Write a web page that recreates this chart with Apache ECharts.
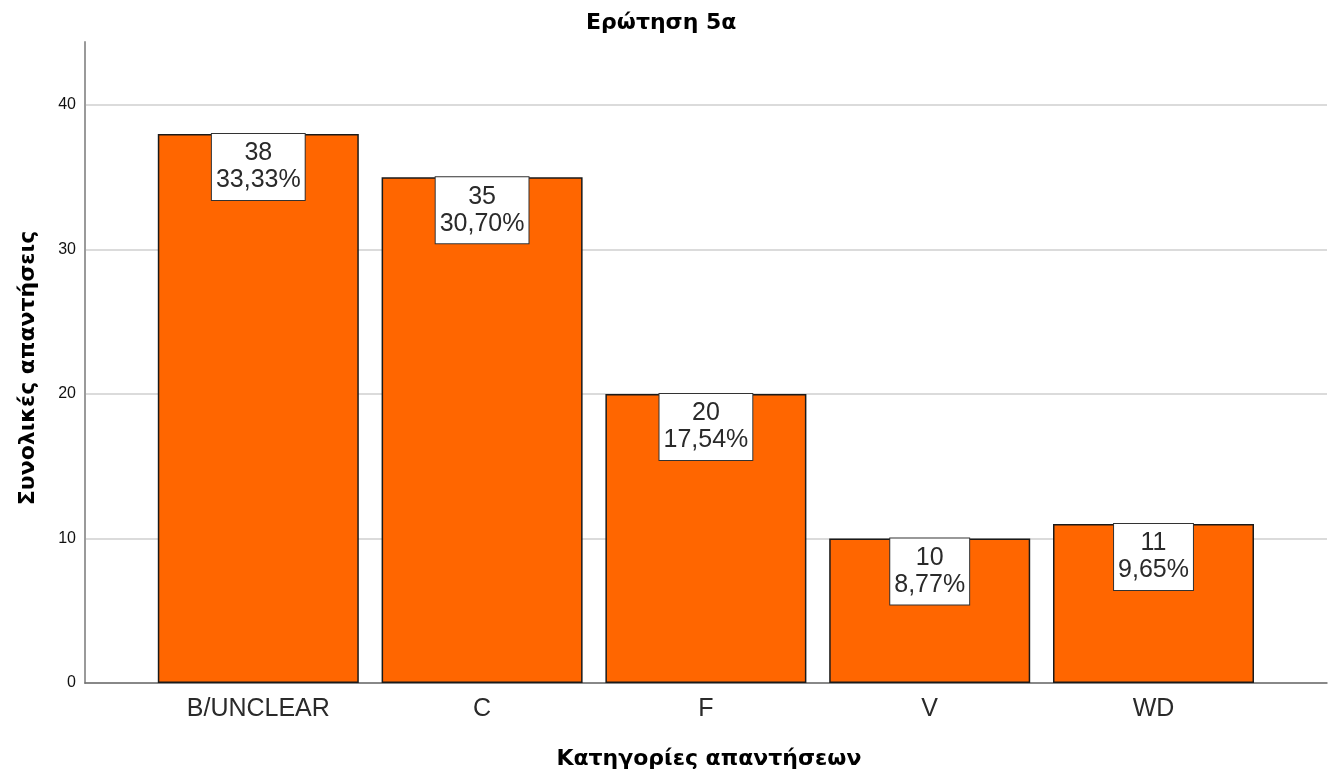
<!DOCTYPE html>
<html>
<head>
<meta charset="utf-8">
<title>Ερώτηση 5α</title>
<script src="https://cdn.jsdelivr.net/npm/echarts@6/dist/echarts.min.js"></script>
<style>
  html, body { margin: 0; padding: 0; background: #ffffff; }
  #chart { width: 1332px; height: 776px; }
</style>
</head>
<body>
<div id="chart"></div>
<script>
// Answer categories and their totals
const categories = ['B/UNCLEAR', 'C', 'F', 'V', 'WD'];
const counts = [38, 35, 20, 10, 11];
const percents = ['33,33%', '30,70%', '17,54%', '8,77%', '9,65%'];
const yTicks = [0, 10, 20, 30, 40];

const titleText = 'Ερώτηση 5α';
const xName = 'Κατηγορίες απαντήσεων';
const yName = 'Συνολικές απαντήσεις';

const Y_MAX = 44.36;
const sans = '"Liberation Sans", Arial, sans-serif';
const boldSans = '"DejaVu Sans", Verdana, sans-serif';

const chart = echarts.init(document.getElementById('chart'), null, { renderer: 'canvas' });

chart.setOption({
  backgroundColor: '#ffffff',
  animation: false,
  title: {
    text: titleText,
    left: 581,
    top: 7,
    textStyle: { fontFamily: boldSans, fontWeight: 'bold', fontSize: 22, color: '#000' }
  },
  grid: [
    // frame: value axis, gridlines and baseline
    { left: 85, right: 5, top: 42, bottom: 93 },
    // bars, inset from the frame
    { left: 146.4, right: 66.6, top: 42, bottom: 93 }
  ],
  xAxis: [
    {
      type: 'category',
      gridIndex: 0,
      data: [''],
      boundaryGap: false,
      axisLine: { show: true, lineStyle: { color: '#6e6e6e', width: 1.5 } },
      axisTick: { show: false },
      axisLabel: { show: false },
      splitLine: { show: false }
    },
    {
      type: 'category',
      gridIndex: 1,
      data: categories,
      axisLine: { show: false },
      axisTick: { show: false },
      axisLabel: {
        margin: 14,
        fontFamily: sans,
        fontSize: 25,
        color: '#2a2a2a'
      },
      name: xName,
      nameLocation: 'middle',
      nameGap: 65,
      nameTextStyle: {
        fontFamily: boldSans, fontWeight: 'bold', fontSize: 22, color: '#000',
        padding: [0, 0, 0, 6]
      }
    }
  ],
  yAxis: [
    {
      type: 'value',
      gridIndex: 0,
      min: 0,
      max: Y_MAX,
      interval: 10,
      axisLine: { show: true, lineStyle: { color: '#9a9a9a', width: 2 } },
      axisTick: { show: false },
      axisLabel: {
        margin: 9,
        fontFamily: sans,
        fontSize: 16,
        color: '#111',
        formatter: v => (yTicks.indexOf(v) >= 0 ? String(v) : '')
      },
      splitLine: {
        show: true,
        lineStyle: {
          color: yTicks.map(() => '#cfcfcf').concat(['rgba(0,0,0,0)']),
          width: 1.5
        }
      },
      name: yName,
      nameLocation: 'middle',
      nameGap: 46,
      nameTextStyle: {
        fontFamily: boldSans, fontWeight: 'bold', fontSize: 22, color: '#000',
        padding: [0, 11, 0, 0]
      }
    },
    {
      type: 'value',
      gridIndex: 1,
      min: 0,
      max: Y_MAX,
      show: false,
      splitLine: { show: false }
    }
  ],
  series: [
    {
      type: 'bar',
      xAxisIndex: 1,
      yAxisIndex: 1,
      data: counts,
      barWidth: 201,
      itemStyle: { color: '#ff6600', borderColor: '#1a1a1a', borderWidth: 1.5 },
      label: {
        show: true,
        position: 'insideTop',
        distance: 0,
        formatter: p => p.value + '\n' + percents[p.dataIndex],
        fontFamily: sans,
        fontSize: 25,
        lineHeight: 27,
        color: '#2a2a2a',
        align: 'center',
        backgroundColor: '#ffffff',
        borderColor: '#333',
        borderWidth: 1,
        padding: [6, 4, 6, 4]
      }
    }
  ]
});
</script>
</body>
</html>
